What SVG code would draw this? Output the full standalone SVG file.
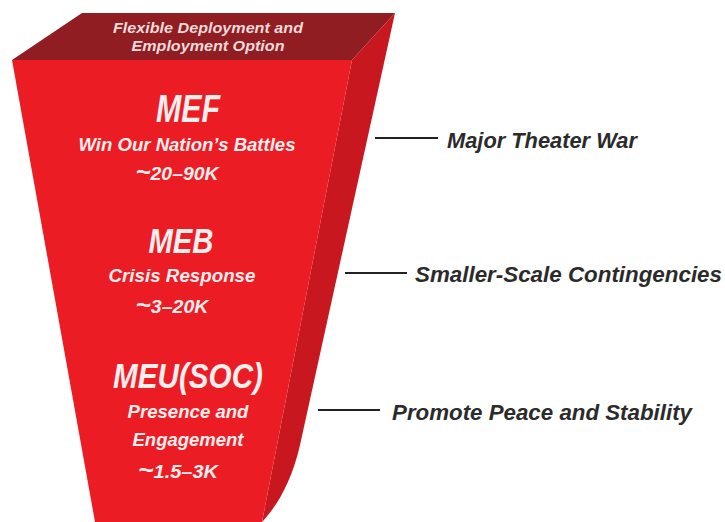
<svg xmlns="http://www.w3.org/2000/svg" width="725" height="522" viewBox="0 0 725 522">
<style>
.w{font-family:"Liberation Sans",Arial,sans-serif;font-weight:bold;font-style:italic;fill:#fdeeee;text-anchor:middle}
.t{font-family:"Liberation Sans",Arial,sans-serif;font-weight:bold;font-style:italic;fill:#f1d9d9;text-anchor:middle;font-size:15px}
.r{font-family:"Liberation Sans",Arial,sans-serif;font-weight:bold;font-style:italic;fill:#2b2b2b;font-size:22px}
.c{stroke:#222;stroke-width:2;fill:none}
.tl{font-size:24px}
</style>
<rect width="725" height="522" fill="#ffffff"/>
<g id="funnel">
<polygon points="82,13 395,13 352,60 12,60" fill="#8f1d22"/>
<path d="M352,60 L395,13 L300,445 C292,480 278,505 262,522 Z" fill="#c9171f"/>
<polygon points="12,60 352,60 262,522 95,522" fill="#ec1c24"/>
</g>
<g id="top-label">
<text class="t" x="208" y="33" textLength="190" lengthAdjust="spacingAndGlyphs">Flexible Deployment and</text>
<text class="t" x="208" y="51" textLength="153" lengthAdjust="spacingAndGlyphs">Employment Option</text>
</g>
<g id="node-mef">
<text class="w" x="188" y="122" font-size="38" textLength="64" lengthAdjust="spacingAndGlyphs">MEF</text>
<text class="w" x="187" y="151" font-size="19" textLength="217" lengthAdjust="spacingAndGlyphs">Win Our Nation’s Battles</text>
<text class="w" x="177" y="180" font-size="18" textLength="83" lengthAdjust="spacingAndGlyphs"><tspan class="tl">~</tspan>20–90K</text>
</g>
<g id="node-meb">
<text class="w" x="181" y="253" font-size="35" textLength="65" lengthAdjust="spacingAndGlyphs">MEB</text>
<text class="w" x="182" y="282" font-size="19" textLength="147" lengthAdjust="spacingAndGlyphs">Crisis Response</text>
<text class="w" x="172" y="313" font-size="18" textLength="73" lengthAdjust="spacingAndGlyphs"><tspan class="tl">~</tspan>3–20K</text>
</g>
<g id="node-meu">
<text class="w" x="188" y="388" font-size="35" textLength="150" lengthAdjust="spacingAndGlyphs">MEU(SOC)</text>
<text class="w" x="188" y="418" font-size="19" textLength="121" lengthAdjust="spacingAndGlyphs">Presence and</text>
<text class="w" x="188" y="446" font-size="19" textLength="111" lengthAdjust="spacingAndGlyphs">Engagement</text>
<text class="w" x="178" y="478" font-size="18" textLength="80" lengthAdjust="spacingAndGlyphs"><tspan class="tl">~</tspan>1.5–3K</text>
</g>
<g id="connectors">
<line class="c" x1="375" y1="138" x2="438" y2="138"/>
<line class="c" x1="345" y1="273" x2="407" y2="273"/>
<line class="c" x1="318" y1="410" x2="380" y2="410"/>
</g>
<g id="label-mtw">
<text class="r" x="447" y="148" textLength="190" lengthAdjust="spacingAndGlyphs">Major Theater War</text>
</g>
<g id="label-ssc">
<text class="r" x="415" y="282" textLength="307" lengthAdjust="spacingAndGlyphs">Smaller-Scale Contingencies</text>
</g>
<g id="label-pps">
<text class="r" x="392" y="420" textLength="300" lengthAdjust="spacingAndGlyphs">Promote Peace and Stability</text>
</g>
</svg>
